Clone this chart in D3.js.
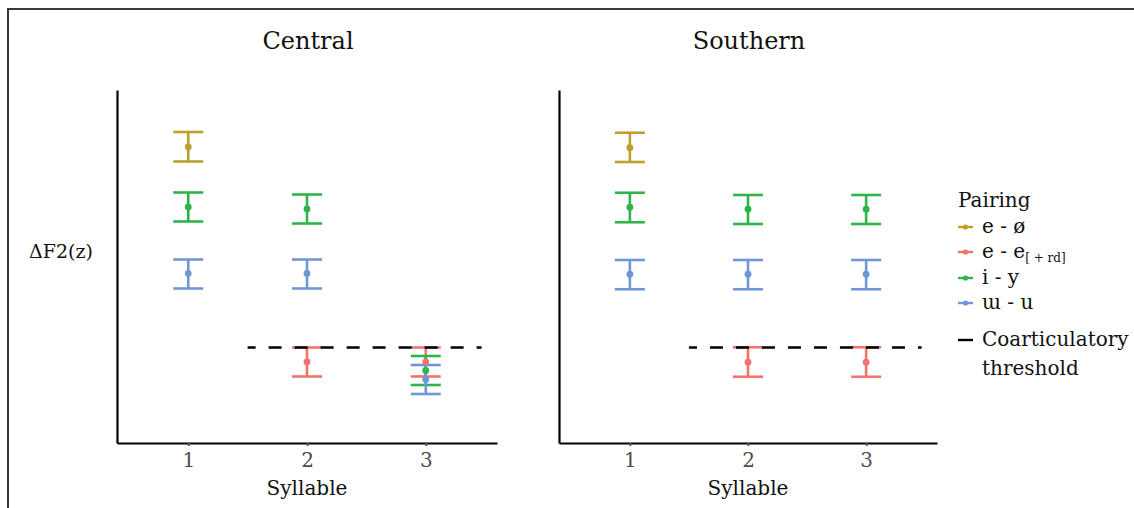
<!DOCTYPE html>
<html>
<head>
<meta charset="utf-8">
<script src="https://cdn.jsdelivr.net/npm/d3@7"></script>
<style>
  html, body { margin: 0; padding: 0; background: #ffffff; }
  svg { display: block; }
  text { font-family: "DejaVu Serif", "Liberation Serif", serif; }
</style>
</head>
<body>
<svg id="chart" width="1134" height="508"></svg>
<script>
// ---------- DATA ----------
const syllables = [1, 2, 3];
const pairings = ["e - ø", "e - e[+rd]", "i - y", "ɯ - u"];
const pairColors = ["#BBA12C", "#F2736D", "#2FB34B", "#6F97D6"];
const panels = ["Central", "Southern"];
// rows: [pairing, syllable, mean, lower, upper]   (ΔF2 in z units)
const centralRows = [
  ["e - ø",     1, 1.184, 1.126, 1.244],
  ["i - y",     1, 0.944, 0.886, 1.002],
  ["ɯ - u",     1, 0.678, 0.618, 0.734],
  ["i - y",     2, 0.936, 0.878, 0.994],
  ["ɯ - u",     2, 0.678, 0.618, 0.734],
  ["e - e[+rd]",2, 0.324, 0.266, 0.382],
  ["e - e[+rd]",3, 0.324, 0.266, 0.382],
  ["i - y",     3, 0.290, 0.232, 0.348],
  ["ɯ - u",     3, 0.254, 0.196, 0.312]
];
const southernRows = [
  ["e - ø",     1, 1.181, 1.124, 1.241],
  ["i - y",     1, 0.943, 0.883, 1.001],
  ["ɯ - u",     1, 0.675, 0.615, 0.732],
  ["i - y",     2, 0.935, 0.876, 0.992],
  ["ɯ - u",     2, 0.675, 0.615, 0.732],
  ["e - e[+rd]",2, 0.323, 0.265, 0.383],
  ["i - y",     3, 0.935, 0.876, 0.992],
  ["ɯ - u",     3, 0.675, 0.615, 0.732],
  ["e - e[+rd]",3, 0.323, 0.265, 0.383]
];
const thresholdValue = 0.382;
const thresholdSpan = [1.5, 3.47];
const yDomain = [0, 1.412];
const xDomain = [0.4, 3.6];

// ---------- LAYOUT ----------
const svg = d3.select("#chart");
svg.append("rect").attr("width", 1134).attr("height", 508).attr("fill", "#fff");
svg.append("path").attr("d", "M8,508 V9 H1134")
  .attr("fill", "none").attr("stroke", "#3a3a3a").attr("stroke-width", 2);

const color = d3.scaleOrdinal().domain(pairings).range(pairColors);
const panelX = [[117, 497], [559, 937]];
const plotTop = 90, plotBottom = 443;
const y = d3.scaleLinear().domain(yDomain).range([plotBottom, plotTop]);
const drawOrder = pairings;

function drawPanel(rows, idx, title) {
  const x = d3.scaleLinear().domain(xDomain).range(panelX[idx]);
  const g = svg.append("g");

  g.append("text").attr("x", (panelX[idx][0] + panelX[idx][1]) / 2 + 1).attr("y", 49)
    .attr("text-anchor", "middle").attr("font-size", 24).attr("fill", "#111").text(title);

  const xa = g.append("g").attr("transform", `translate(0,${plotBottom})`)
    .call(d3.axisBottom(x).tickValues(syllables).tickFormat(d3.format("d")).tickSize(3).tickSizeOuter(0).tickPadding(7));
  xa.select(".domain").attr("stroke", "#000").attr("stroke-width", 2.2);
  xa.selectAll(".tick line").attr("stroke", "#555").attr("stroke-width", 2);
  xa.selectAll(".tick text").attr("font-size", 20).attr("fill", "#4d4d4d")
    .attr("font-family", "DejaVu Serif, serif");
  const ya = g.append("g").attr("transform", `translate(${panelX[idx][0]},0)`)
    .call(d3.axisLeft(y).tickValues([]).tickSizeOuter(0));
  ya.select(".domain").attr("stroke", "#000").attr("stroke-width", 2.2);
  g.append("text").attr("x", (panelX[idx][0] + panelX[idx][1]) / 2).attr("y", 495)
    .attr("text-anchor", "middle").attr("font-size", 20).attr("fill", "#111").text("Syllable");

  const sorted = rows.slice().sort((a, b) => drawOrder.indexOf(a[0]) - drawOrder.indexOf(b[0]));
  const capHalf = 15;
  const bars = g.selectAll("g.bar").data(sorted).join("g").attr("class", "bar");
  bars.append("line")
    .attr("x1", d => x(d[1])).attr("x2", d => x(d[1]))
    .attr("y1", d => y(d[3])).attr("y2", d => y(d[4]))
    .attr("stroke", d => color(d[0])).attr("stroke-width", 2.6);
  bars.append("line")
    .attr("x1", d => x(d[1]) - capHalf).attr("x2", d => x(d[1]) + capHalf)
    .attr("y1", d => y(d[4])).attr("y2", d => y(d[4]))
    .attr("stroke", d => color(d[0])).attr("stroke-width", 2.6);
  bars.append("line")
    .attr("x1", d => x(d[1]) - capHalf).attr("x2", d => x(d[1]) + capHalf)
    .attr("y1", d => y(d[3])).attr("y2", d => y(d[3]))
    .attr("stroke", d => color(d[0])).attr("stroke-width", 2.6);
  g.selectAll("circle.pt").data(sorted).join("circle").attr("class", "pt")
    .attr("cx", d => x(d[1])).attr("cy", d => y(d[2])).attr("r", 3.4)
    .attr("fill", d => color(d[0]));

  g.append("line")
    .attr("x1", x(thresholdSpan[0])).attr("x2", x(thresholdSpan[1]))
    .attr("y1", y(thresholdValue)).attr("y2", y(thresholdValue))
    .attr("stroke", "#000").attr("stroke-width", 2.4)
    .attr("stroke-dasharray", "13,13").attr("stroke-dashoffset", 5);
}

drawPanel(centralRows, 0, panels[0]);
drawPanel(southernRows, 1, panels[1]);

svg.append("text").attr("x", 29).attr("y", 258).attr("font-size", 19).attr("fill", "#111").text("ΔF2(z)");

const lg = svg.append("g");
lg.append("text").attr("x", 958).attr("y", 207).attr("font-size", 20).attr("fill", "#111").text("Pairing");
const legendY = [227, 252, 278, 303];
pairings.forEach((p, i) => {
  const yy = legendY[i];
  lg.append("line").attr("x1", 958).attr("x2", 973).attr("y1", yy).attr("y2", yy)
    .attr("stroke", color(p)).attr("stroke-width", 2.4);
  lg.append("circle").attr("cx", 965.5).attr("cy", yy).attr("r", 2.6).attr("fill", color(p));
  const t = lg.append("text").attr("x", 982).attr("y", yy + 6).attr("font-size", 20).attr("fill", "#111");
  if (p === "e - e[+rd]") {
    t.append("tspan").text("e - e");
    t.append("tspan").attr("font-size", 12).attr("dy", 4).text("[ + rd]");
  } else {
    t.text(p);
  }
});
lg.append("line").attr("x1", 958).attr("x2", 973).attr("y1", 340).attr("y2", 340)
  .attr("stroke", "#000").attr("stroke-width", 2.4);
lg.append("text").attr("x", 982).attr("y", 346).attr("font-size", 20).attr("fill", "#111").text("Coarticulatory");
lg.append("text").attr("x", 982).attr("y", 375).attr("font-size", 20).attr("fill", "#111").text("threshold");
</script>
</body>
</html>
